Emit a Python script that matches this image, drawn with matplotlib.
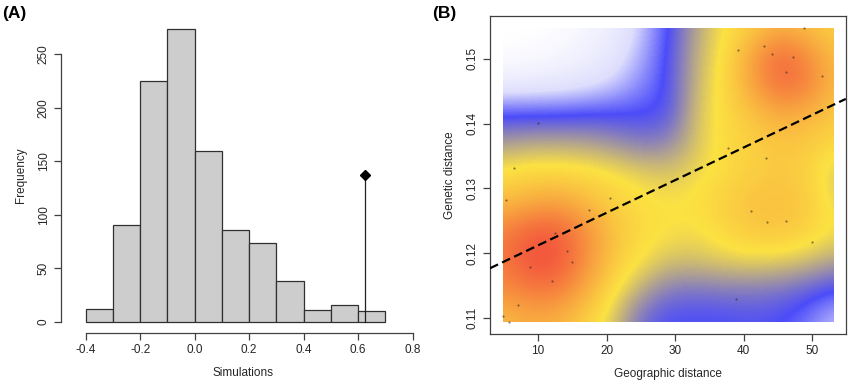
import numpy as np
import matplotlib
matplotlib.use("Agg")
import matplotlib.pyplot as plt
from matplotlib.colors import LinearSegmentedColormap
from matplotlib.patches import Rectangle

plt.rcParams['font.family'] = ['Liberation Sans', 'DejaVu Sans']

# ---- panel A: histogram of simulated values ----
bin_edges = [-0.4, -0.3, -0.2, -0.1, 0.0, 0.1, 0.2, 0.3, 0.4, 0.5, 0.6, 0.7]
bin_counts = [12, 91, 225, 274, 160, 86, 74, 38, 11, 16, 10]
observed_x = 0.627
observed_y = 137
hist_xticks = [-0.4, -0.2, 0.0, 0.2, 0.4, 0.6, 0.8]
hist_yticks = [0, 50, 100, 150, 200, 250]

# ---- panel B: geographic vs genetic distance ----
geo_dist = [48.8, 39.1, 42.9, 44.1, 47.2, 46.2, 51.4, 10.0, 37.7, 43.3, 6.45, 5.4,
            20.5, 17.4, 41.1, 43.35, 46.1, 12.5, 14.2, 15.0, 8.8, 12.0, 49.9, 7.1,
            38.8, 4.85, 5.8]
gen_dist = [0.1547, 0.1514, 0.1519, 0.1507, 0.1502, 0.1480, 0.1474, 0.1401, 0.1363,
            0.1347, 0.1332, 0.1282, 0.1286, 0.1267, 0.1266, 0.1249, 0.1250, 0.1231,
            0.1204, 0.1187, 0.1179, 0.1158, 0.1218, 0.1120, 0.1129, 0.1103, 0.1094]
fit_intercept = 0.1162
fit_slope = 0.000503

# density surface (rows bottom -> top)
grid_x = [5, 9, 13, 17, 21, 25, 29, 33, 37, 41, 45, 49, 53]
grid_y = [0.110, 0.1145, 0.119, 0.1235, 0.128, 0.1325, 0.137, 0.1415, 0.146, 0.1505, 0.155]
density = np.array([
    [0.66, 0.70, 0.68, 0.60, 0.50, 0.35, 0.30, 0.30, 0.30, 0.31, 0.30, 0.26, 0.18],
    [0.78, 0.85, 0.84, 0.70, 0.56, 0.46, 0.38, 0.37, 0.38, 0.38, 0.37, 0.34, 0.30],
    [0.85, 0.97, 0.95, 0.78, 0.62, 0.55, 0.50, 0.50, 0.52, 0.53, 0.52, 0.50, 0.45],
    [0.82, 0.92, 0.92, 0.78, 0.64, 0.57, 0.55, 0.54, 0.58, 0.62, 0.63, 0.60, 0.55],
    [0.65, 0.70, 0.72, 0.66, 0.60, 0.56, 0.55, 0.56, 0.60, 0.64, 0.65, 0.62, 0.52],
    [0.56, 0.58, 0.58, 0.57, 0.55, 0.52, 0.50, 0.53, 0.57, 0.60, 0.62, 0.60, 0.50],
    [0.44, 0.46, 0.46, 0.45, 0.42, 0.38, 0.40, 0.50, 0.57, 0.60, 0.63, 0.62, 0.58],
    [0.29, 0.29, 0.29, 0.30, 0.30, 0.30, 0.31, 0.50, 0.57, 0.63, 0.70, 0.68, 0.62],
    [0.09, 0.10, 0.11, 0.13, 0.17, 0.24, 0.31, 0.48, 0.57, 0.72, 0.88, 0.84, 0.66],
    [0.01, 0.02, 0.04, 0.07, 0.11, 0.20, 0.31, 0.47, 0.56, 0.72, 0.90, 0.80, 0.65],
    [0.00, 0.00, 0.01, 0.04, 0.08, 0.17, 0.30, 0.45, 0.55, 0.60, 0.68, 0.64, 0.60],
])

txt = '#262626'
axc = '#404040'

fig = plt.figure(figsize=(8.5, 3.85), dpi=100)

# ================= (A) =================
ax1 = fig.add_axes([0.0718, 0.1351, 0.4289, 0.8213])
widths = np.diff(bin_edges)
ax1.bar(bin_edges[:-1], bin_counts, width=widths, align='edge',
        color='#cdcdcd', edgecolor='#303030', linewidth=0.9)
ax1.plot([observed_x, observed_x], [0, observed_y], color='#202020', lw=0.9)
ax1.plot(observed_x, observed_y, marker='D', ms=5.5, color='black')
ax1.set_xlim(-0.491, 0.848)
ax1.set_ylim(-10.3, 285)
for s in ['top', 'right']:
    ax1.spines[s].set_visible(False)
ax1.spines['left'].set_bounds(0, 250)
ax1.spines['bottom'].set_bounds(-0.4, 0.8)
for s in ['left', 'bottom']:
    ax1.spines[s].set_color(axc)
    ax1.spines[s].set_linewidth(0.9)
ax1.set_xticks(hist_xticks)
ax1.set_xticklabels(['-0.4', '-0.2', '0.0', '0.2', '0.4', '0.6', '0.8'])
ax1.set_yticks(hist_yticks)
ax1.set_yticklabels([str(v) for v in hist_yticks], rotation=90, va='center')
ax1.tick_params(length=5, width=0.9, color=axc, labelsize=8.5, labelcolor=txt, pad=3)
ax1.set_xlabel('Simulations', fontsize=8.5, color=txt, labelpad=8)
ax1.set_ylabel('Frequency', fontsize=8.5, color=txt, labelpad=8)

# ================= (B) =================
ax2 = fig.add_axes([0.5765, 0.1325, 0.4185, 0.8260])
cmap = LinearSegmentedColormap.from_list('dens', [
    (0.0, (1.0, 1.0, 1.0)),
    (0.15, (222/255, 222/255, 253/255)),
    (0.3, (76/255, 76/255, 250/255)),
    (0.55, (252/255, 226/255, 66/255)),
    (1.0, (242/255, 66/255, 60/255)),
])
dx = grid_x[1] - grid_x[0]
dy = grid_y[1] - grid_y[0]
im = ax2.imshow(density, origin='lower', cmap=cmap, vmin=0, vmax=1,
                interpolation='bicubic', aspect='auto',
                extent=[grid_x[0] - dx / 2, grid_x[-1] + dx / 2,
                        grid_y[0] - dy / 2, grid_y[-1] + dy / 2])
clip = Rectangle((4.85, 0.10943), 53.0 - 4.85, 0.15473 - 0.10943,
                 transform=ax2.transData, fc='none', ec='none')
im.set_clip_path(clip)
ax2.scatter(geo_dist, gen_dist, s=2.5, color='#3a2a20', alpha=0.6, lw=0, zorder=3)
ax2.axline((0, fit_intercept), slope=fit_slope, color='black', lw=1.6,
           dashes=(4, 2), zorder=4)
ax2.set_xlim(3.0, 54.87)
ax2.set_ylim(0.10758, 0.15658)
for s in ax2.spines.values():
    s.set_color(axc)
    s.set_linewidth(0.9)
ax2.set_xticks([10, 20, 30, 40, 50])
ax2.set_yticks([0.11, 0.12, 0.13, 0.14, 0.15])
ax2.set_yticklabels(['0.11', '0.12', '0.13', '0.14', '0.15'], rotation=90, va='center')
ax2.tick_params(length=5, width=0.9, color=axc, labelsize=8.5, labelcolor=txt, pad=3)
ax2.set_xlabel('Geographic distance', fontsize=8.5, color=txt, labelpad=8)
ax2.set_ylabel('Genetic distance', fontsize=8.5, color=txt, labelpad=8)

fig.text(0.003, 0.965, '(A)', fontsize=12.5, fontweight='bold', va='center', ha='left')
fig.text(0.508, 0.965, '(B)', fontsize=12.5, fontweight='bold', va='center', ha='left')

fig.savefig('out.png', dpi=100)
